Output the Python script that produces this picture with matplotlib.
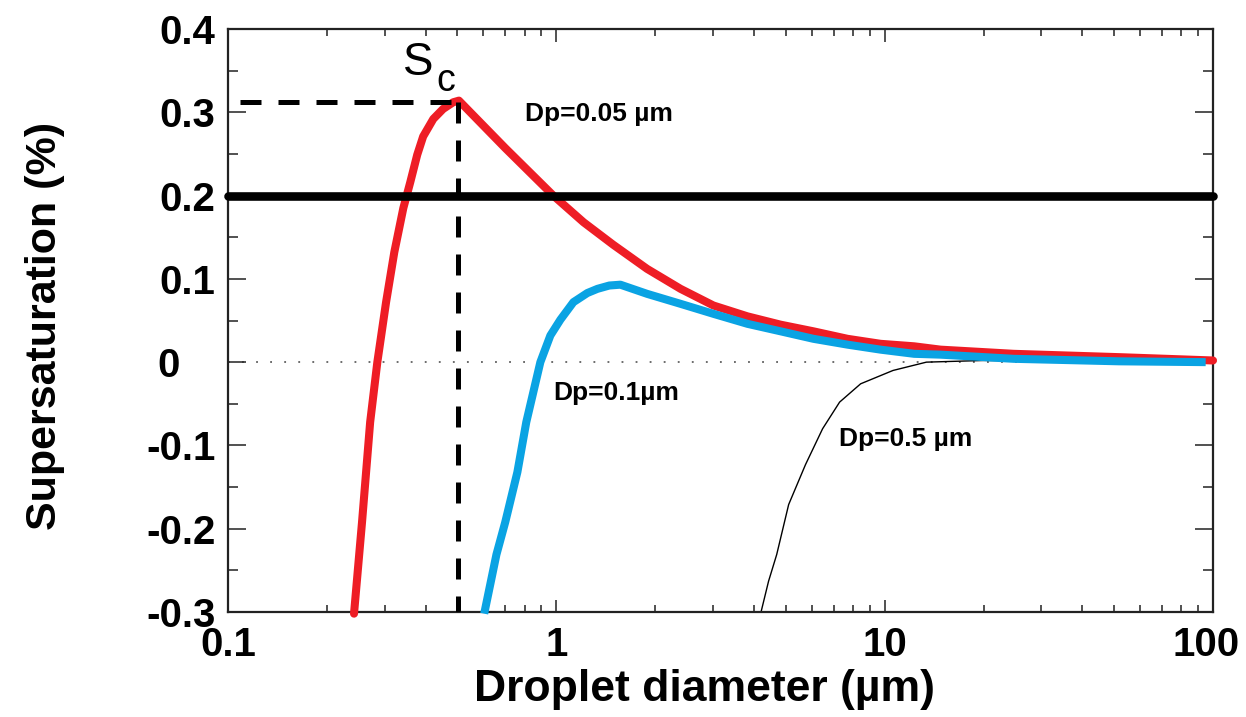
import matplotlib
matplotlib.use("Agg")
import matplotlib.pyplot as plt
from matplotlib.ticker import FixedLocator, LogLocator, NullFormatter, FixedFormatter
from matplotlib.transforms import ScaledTranslation

plt.rcParams['font.family'] = ['Liberation Sans', 'DejaVu Sans']

# ---- data ----
red_d = [0.242, 0.256, 0.271, 0.285, 0.303, 0.321, 0.342, 0.359, 0.377, 0.393, 0.422,
         0.452, 0.485, 0.505, 0.699, 0.979, 1.21, 1.49, 1.89, 2.39, 3.01, 3.82, 4.82,
         6.07, 7.71, 9.72, 12.3, 14.8, 24.7, 51.7, 100]
red_s = [-0.302, -0.192, -0.072, 0.0, 0.072, 0.132, 0.185, 0.216, 0.249, 0.271, 0.292,
         0.304, 0.312, 0.314, 0.257, 0.200, 0.168, 0.141, 0.112, 0.088, 0.068, 0.055, 0.045,
         0.037, 0.028, 0.022, 0.019, 0.015, 0.010, 0.006, 0.002]

blue_d = [0.603, 0.657, 0.699, 0.761, 0.810, 0.894, 0.959, 1.029, 1.127, 1.243, 1.334,
          1.45, 1.567, 1.89, 2.39, 3.01, 3.82, 4.82, 6.07, 7.71, 9.72, 12.3, 14.8,
          24.7, 51.7, 95]
blue_s = [-0.302, -0.231, -0.192, -0.132, -0.072, 0.0, 0.032, 0.051, 0.072, 0.083, 0.088,
          0.092, 0.093, 0.082, 0.070, 0.058, 0.046, 0.037, 0.028, 0.021, 0.015, 0.010, 0.009,
          0.004, 0.001, 0.0]

black_d = [4.19, 4.43, 4.69, 5.10, 5.74, 6.47, 7.29, 8.45, 10.6, 13.4, 20, 50, 100]
black_s = [-0.302, -0.263, -0.231, -0.171, -0.123, -0.080, -0.048, -0.026, -0.010, 0.0,
           0.002, 0.001, 0.0005]

env_ss = 0.2           # ambient supersaturation line
sc_d, sc_s = 0.502, 0.312   # critical point
sc_x0 = 0.109

xticks = [0.1, 1, 10, 100]
xtick_labels = ['0.1', '1', '10', '100']
yticks = [-0.3, -0.2, -0.1, 0, 0.1, 0.2, 0.3, 0.4]
ytick_labels = ['-0.3', '-0.2', '-0.1', '0', '0.1', '0.2', '0.3', '0.4']

RED = '#EE1D25'
BLUE = '#0AA3E3'

fig = plt.figure(figsize=(12.46, 7.17), dpi=100)
ax = fig.add_axes([228/1246, 1-612/717, (1213-228)/1246, (612-29)/717])

ax.set_xscale('log')
ax.set_xlim(0.1, 100)
ax.set_ylim(-0.3, 0.4)

# zero dotted line
ax.plot([0.1, 100], [0, 0], color='#444444', lw=1.1, linestyle=(0, (1.2, 8)), zorder=1)

ax.plot(black_d, black_s, color='black', lw=1.0, zorder=2)
ax.plot(red_d, red_s, color=RED, lw=5.8, solid_capstyle='round', solid_joinstyle='round',
        zorder=3, clip_on=False)
ax.plot(blue_d, blue_s, color=BLUE, lw=5.8, solid_capstyle='butt', solid_joinstyle='round',
        zorder=4, clip_on=False)

ax.plot([0.1, 100], [env_ss, env_ss], color='black', lw=6.2, solid_capstyle='round',
        zorder=5, clip_on=False)

ax.plot([sc_x0, sc_d], [sc_s, sc_s], color='black', lw=3.6, linestyle=(0, (4.2, 3.4)),
        dash_capstyle='butt', zorder=5)
ax.plot([sc_d, sc_d], [sc_s, -0.3], color='black', lw=3.6, linestyle=(0, (4.2, 3.4)),
        dash_capstyle='butt', zorder=5)

# annotations
ax.text(0.379, 0.359, 'S', fontsize=33, ha='center', va='center')
ax.text(0.459, 0.337, 'c', fontsize=27, ha='center', va='center')
ax.text(0.804, 0.298, 'Dp=0.05 µm', fontsize=19, fontweight='bold', ha='left', va='center')
ax.text(0.979, -0.037, 'Dp=0.1µm', fontsize=19, fontweight='bold', ha='left', va='center')
ax.text(7.24, -0.092, 'Dp=0.5 µm', fontsize=19, fontweight='bold', ha='left', va='center')

# ticks
ax.xaxis.set_major_locator(FixedLocator(xticks))
ax.xaxis.set_major_formatter(FixedFormatter(xtick_labels))
ax.xaxis.set_minor_locator(LogLocator(base=10, subs=range(2, 10)))
ax.xaxis.set_minor_formatter(NullFormatter())
ax.yaxis.set_major_locator(FixedLocator(yticks))
ax.yaxis.set_major_formatter(FixedFormatter(ytick_labels))
ax.yaxis.set_minor_locator(FixedLocator([-0.25, -0.15, -0.05, 0.05, 0.15, 0.25, 0.35]))

ax.tick_params(axis='both', which='both', direction='in', top=True, right=True,
               color='#222222', width=1.1)
ax.tick_params(axis='x', which='major', length=9, pad=10, labelsize=29)
ax.tick_params(axis='x', which='minor', length=5)
ax.tick_params(axis='y', which='major', length=13, pad=9, labelsize=29)
ax.tick_params(axis='y', which='minor', length=7)
for lab in ax.get_xticklabels() + ax.get_yticklabels():
    lab.set_fontweight('bold')

for sp in ax.spines.values():
    sp.set_linewidth(1.6)
    sp.set_color('#222222')

ax.set_xlabel('Droplet diameter (µm)', fontsize=32, fontweight='bold', va='center')
ax.xaxis.set_label_coords(0.484, -0.133)
ax.set_ylabel('Supersaturation (%)', fontsize=31, fontweight='bold', va='center')
ax.yaxis.set_label_coords(-0.186, 0.49)

fig.canvas.draw()
for tick in ax.yaxis.get_major_ticks():
    if tick.label1.get_text() == '0':
        tick.label1.set_transform(tick.label1.get_transform() +
                                  ScaledTranslation(-0.36, 0, fig.dpi_scale_trans))
for tick in ax.xaxis.get_major_ticks():
    if tick.label1.get_text() == '100':
        tick.label1.set_transform(tick.label1.get_transform() +
                                  ScaledTranslation(-0.07, 0, fig.dpi_scale_trans))

fig.savefig('out.png', dpi=100)
